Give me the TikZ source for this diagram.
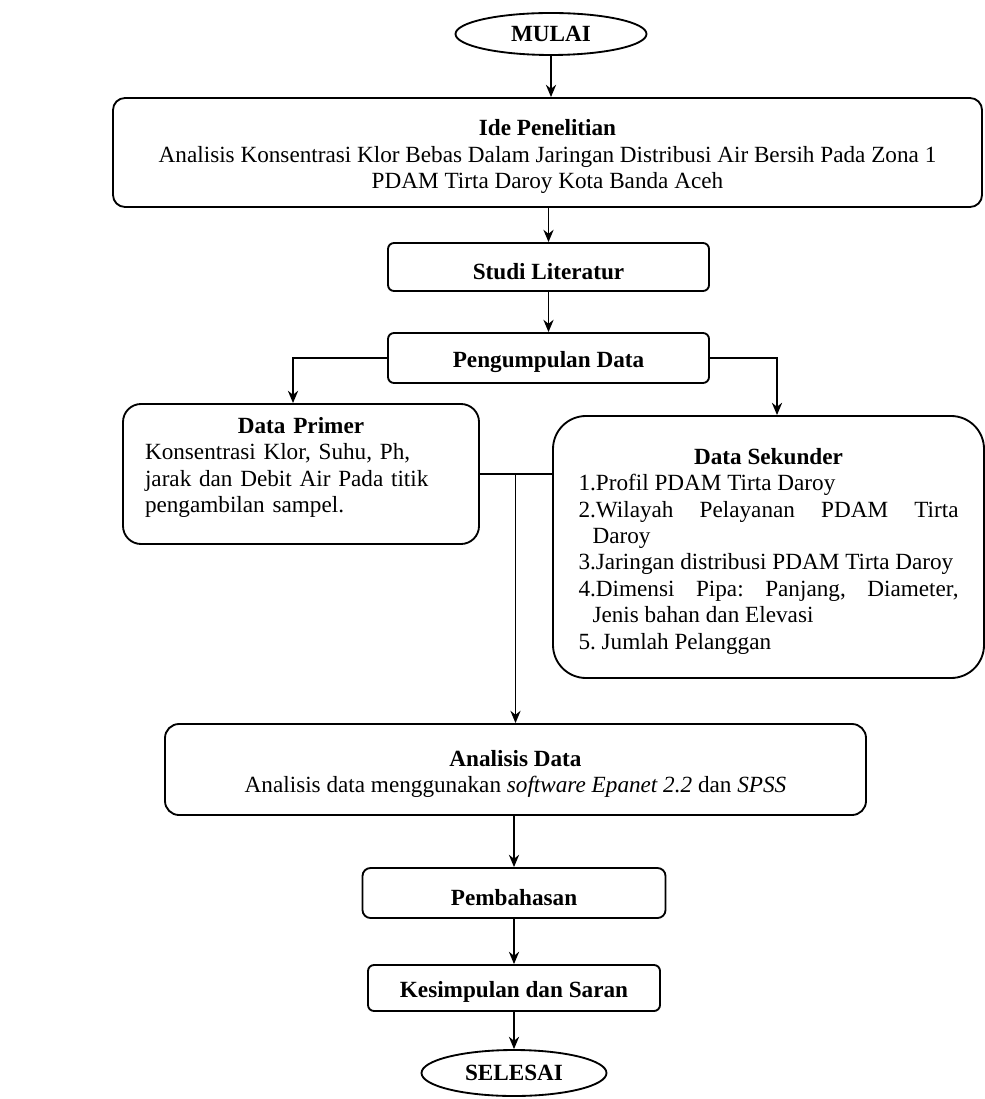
\documentclass[tikz,border=0pt]{standalone}
\usepackage{fontspec}
\setmainfont{Liberation Serif}
\usetikzlibrary{shapes.geometric,arrows.meta}
\frenchspacing
\newcommand{\butir}{\par\noindent\hangindent=0.28cm\hangafter=1 }
\newcommand{\naik}{\rule{0pt}{14pt}}
\begin{document}
\begin{tikzpicture}[>={Stealth[length=7pt,width=5.8pt]}, line width=1.05pt,
        every node/.style={font=\fontsize{13.2}{15}\selectfont},
        kotak/.style={draw, rounded corners=#1, align=center, inner sep=0pt,
            execute at begin node={\naik}},
        kotak/.default=0.12cm,
        terminal/.style={draw, ellipse, inner sep=0pt}]
        \useasboundingbox (0,0) rectangle (19.70,-21.98);
        \node[terminal, minimum width=3.82cm, minimum height=0.84cm] (mulai) at (11.02,-0.68) {\textbf{MULAI}};
        \node[kotak=0.24cm, minimum width=17.38cm, minimum height=2.18cm] (ide) at (10.95,-3.05) {\naik\textbf{Ide Penelitian}\\ Analisis Konsentrasi Klor Bebas Dalam Jaringan Distribusi Air Bersih Pada Zona 1\\ PDAM Tirta Daroy Kota Banda Aceh};
        \node[kotak, minimum width=6.42cm, minimum height=0.96cm] (studi) at (10.97,-5.34) {\textbf{Studi Literatur}};
        \node[kotak, minimum width=6.42cm, minimum height=1.0cm] (kumpul) at (10.97,-7.16) {\textbf{Pengumpulan Data}};
        \node[kotak=0.36cm, minimum width=7.12cm, minimum height=2.8cm, text width=6.24cm, align=left] (primer) at (6.02,-9.48) {\makebox[\linewidth]{\textbf{Data Primer}}\\ Konsentrasi Klor, Suhu, Ph,\\ jarak dan Debit Air Pada titik\\ pengambilan sampel.\\ \mbox{}};
        \node[kotak=0.66cm, minimum width=8.62cm, minimum height=5.24cm, text width=7.6cm, align=justify] (sekunder) at (15.37,-10.94) {%
            {\centering\textbf{Data Sekunder}\par}
            \butir 1.Profil PDAM Tirta Daroy
            \butir 2.Wilayah Pelayanan PDAM Tirta\linebreak Daroy
            \butir 3.Jaringan distribusi PDAM Tirta Daroy
            \butir 4.Dimensi Pipa: Panjang, Diameter,\linebreak Jenis bahan dan Elevasi
            \butir 5. Jumlah Pelanggan\par};
        \node[kotak=0.28cm, minimum width=14.02cm, minimum height=1.82cm] (analisis) at (10.31,-15.39) {\naik\textbf{Analisis Data}\\ Analisis data menggunakan \textit{software Epanet 2.2} dan \textit{SPSS}};
        \node[kotak=0.16cm, minimum width=6.06cm, minimum height=1.0cm] (bahas) at (10.28,-17.86) {\textbf{Pembahasan}};
        \node[kotak, minimum width=5.84cm, minimum height=0.92cm] (simpul) at (10.28,-19.76) {\textbf{Kesimpulan dan Saran}};
        \node[terminal, minimum width=3.7cm, minimum height=0.92cm] (selesai) at (10.28,-21.46) {\textbf{SELESAI}};
        % alur utama
        \draw[->] (mulai.south) -- (mulai.south |- ide.north);
        \draw[->] (ide.south -| studi.north) -- (studi.north);
        \draw[->] (studi) -- (kumpul);
        \draw[->] (kumpul.west) -| ([xshift=-0.16cm]primer.north);
        \draw[->] (kumpul.east) -| ([xshift=0.17cm]sekunder.north);
        \draw (primer.east) -- (primer.east -| sekunder.west);
        \coordinate (simpang) at (analisis.north |- primer.east);
        \draw[->] (simpang) -- (analisis.north);
        \draw[->] (analisis.south -| bahas.north) -- (bahas.north);
        \draw[->] (bahas) -- (simpul);
        \draw[->] (simpul) -- (selesai);
    \end{tikzpicture}
\end{document}
